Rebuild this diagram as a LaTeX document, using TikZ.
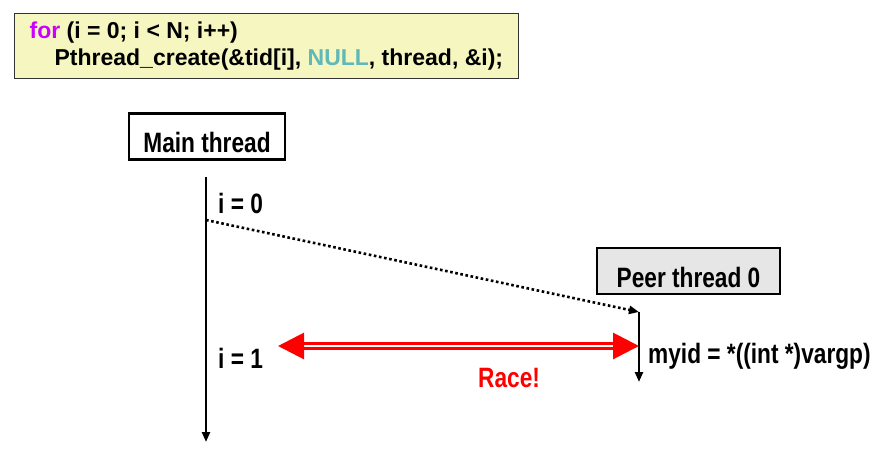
\documentclass[tikz,border=0pt]{standalone}
\usepackage{fontspec}
\setmainfont{Liberation Sans}
\newfontfamily\narrowfont{Liberation Sans}[FakeStretch=0.81]
\usetikzlibrary{positioning,arrows.meta,calc}
\definecolor{CodeFill}{RGB}{246,246,192}
\definecolor{PeerFill}{RGB}{230,230,230}
\definecolor{KeyPurple}{RGB}{204,0,255}
\definecolor{NullTeal}{RGB}{96,184,184}
\definecolor{RaceRed}{RGB}{255,0,0}
\tikzset{
  codebox/.style={draw=black!80,fill=CodeFill,line width=1.2pt,anchor=north west,
    minimum width=493pt,minimum height=65pt,align=left,inner xsep=15pt,
    font=\fontsize{23}{26.5}\selectfont\bfseries},
  threadbox/.style={draw=black,line width=2.8pt,minimum height=46pt,inner ysep=0pt,
    text height=32pt,text depth=0pt,
    font=\narrowfont\fontsize{28}{32}\selectfont\bfseries},
  label/.style={inner sep=0pt,anchor=base west,
    font=\narrowfont\fontsize{28}{32}\selectfont\bfseries},
  timeline/.style={-{Triangle[length=10pt,width=8pt]},line width=2.4pt},
  handoff/.style={-{Triangle[length=10pt,width=8pt]},line width=2.6pt,
    dash pattern=on 2.6pt off 2.6pt},
  racearrow/.style={{Triangle[length=26pt,width=26pt]}-{Triangle[length=26pt,width=26pt]},
    draw=RaceRed,line width=3pt,double=white,double distance=1.4pt}
}
\begin{document}
\begin{tikzpicture}[x=1pt,y=-1pt]
  \useasboundingbox (0,0) rectangle (888,450);

  % the loop that spawns the peers
  \node[codebox] (code) at (14,13) {%
    {\color{KeyPurple}for} (i = 0; i < N; i++)\\
    \hspace*{25pt}Pthread\_create(\&tid[i], {\color{NullTeal}NULL}, thread, \&i);};

  % main thread
  \node[threadbox,fill=white,minimum width=156pt] (main) at (207,136.5) {Main thread};
  \coordinate (mtop) at (206,177);
  \coordinate (mbot) at (206,442);
  \coordinate (mspawn) at (206,220);
  \draw[timeline] (mtop) -- (mbot);
  \node[label] (izero) at (218,213) {i = 0};
  \node[label] (ione) at (218,368) {i = 1};

  % peer thread
  \node[threadbox,fill=PeerFill,line width=2.2pt,minimum width=183pt] (peer) at (688.5,271) {Peer thread 0};
  \coordinate (ptop) at (639,312);
  \coordinate (pbot) at (639,382);
  \draw[timeline] (ptop) -- (pbot);
  \draw[handoff] (mspawn) -- (ptop);
  \node[label] (myid) at (648,363) {myid = *((int *)vargp)};

  % the race on i
  \coordinate (rleft) at (278,346);
  \coordinate (rright) at (639,346);
  \draw[racearrow] (rleft) -- (rright);
  \node[label,text=RaceRed] (race) at (478,387) {Race!};
\end{tikzpicture}
\end{document}
